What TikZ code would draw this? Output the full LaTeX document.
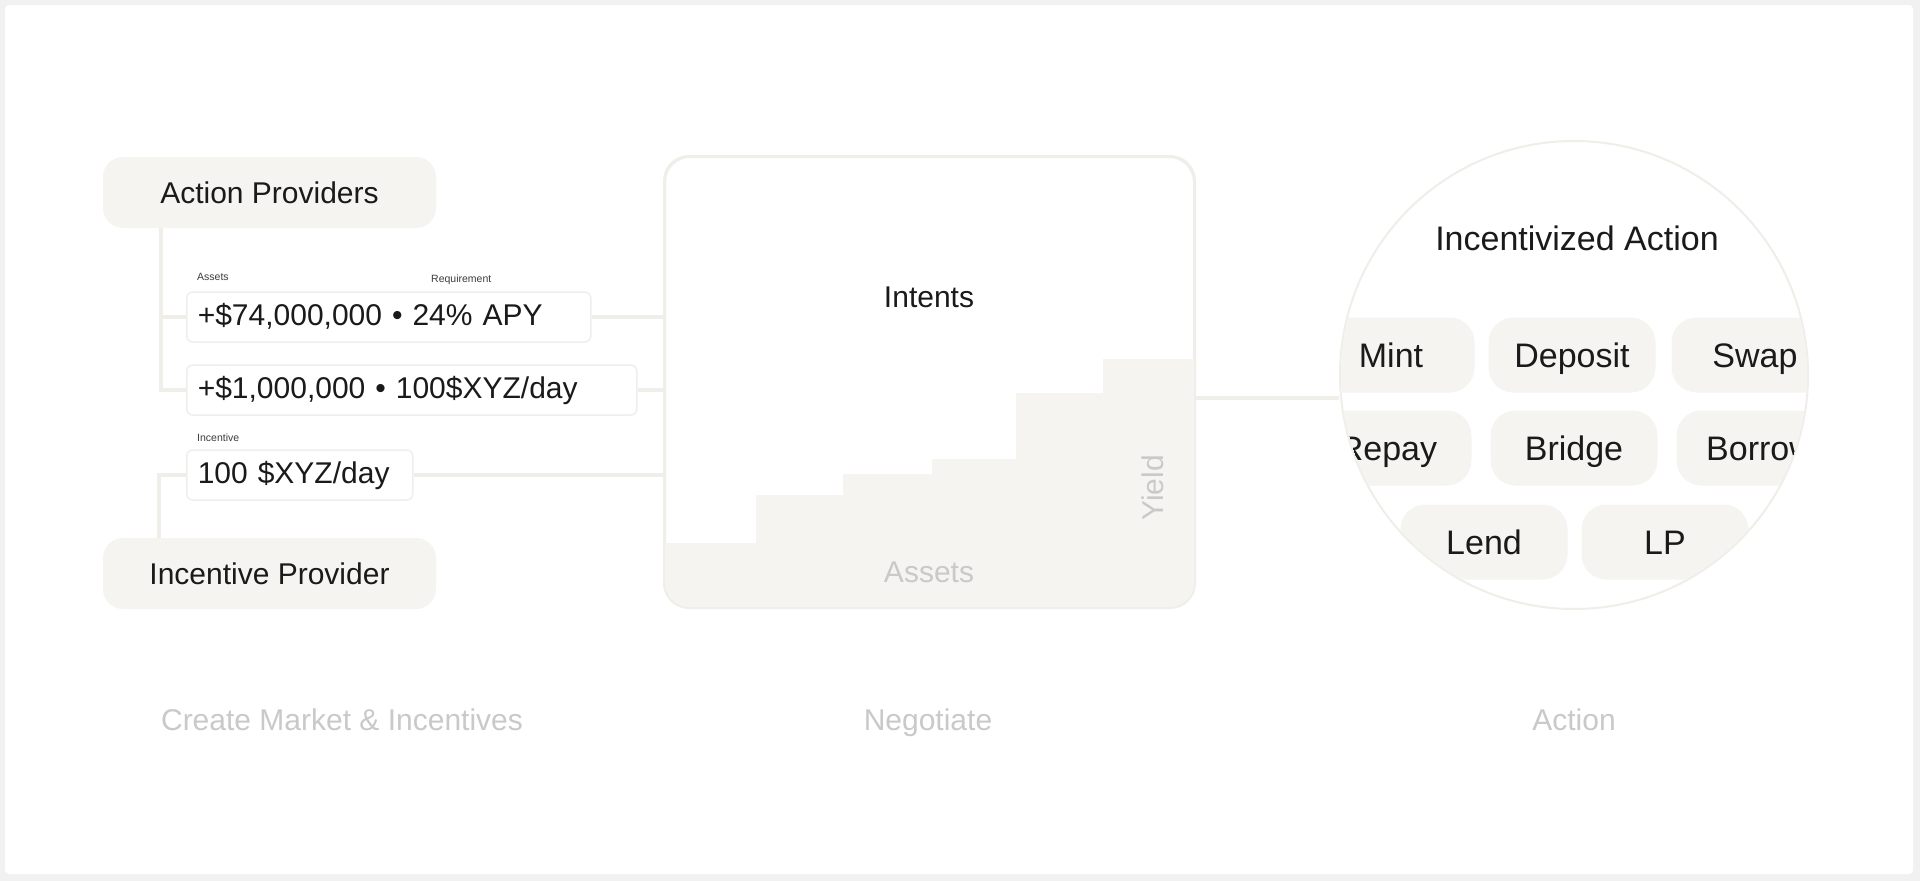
\documentclass[tikz,border=0pt]{standalone}
\usepackage{fontspec}
\setmainfont{Liberation Sans}
\usetikzlibrary{positioning}
\definecolor{framegray}{HTML}{F1F1F1}
\definecolor{sandfill}{HTML}{F5F4F0}
\definecolor{sandline}{HTML}{F0EEE8}
\definecolor{boxedge}{HTML}{EEEEEC}
\definecolor{mutedgray}{HTML}{C9C9C9}
\definecolor{inkdark}{HTML}{1A1A1A}

\tikzset{
  txt/.style={text=inkdark, font=\fontsize{30pt}{36pt}\selectfont, inner sep=0pt, text height=22pt, text depth=0pt},
  provider/.style={txt, fill=sandfill, rounded corners=20pt, minimum width=333pt, minimum height=71pt},
  amount/.style={txt, text depth=6pt, draw=boxedge, line width=1.5pt, fill=white, rounded corners=6pt, minimum height=50pt, align=left, inner xsep=11pt, anchor=west},
  tag/.style={text=inkdark!85, font=\fontsize{10.5pt}{12pt}\selectfont, inner sep=0pt, anchor=west},
  link/.style={draw=sandline, line width=4pt},
  muted/.style={txt, text=mutedgray},
  pill/.style={txt, font=\fontsize{34pt}{40pt}\selectfont, text height=25pt, fill=sandfill, rounded corners=25pt, minimum width=167pt, minimum height=75pt},
}

\begin{document}
\begin{tikzpicture}[x=1pt, y=-1pt]
  % Frame
  \fill[framegray] (0,0) rectangle (1920,881);
  \fill[white, rounded corners=4pt] (5,5) rectangle (1913,874);

  % Create market and incentives
  \node[provider] (actprov) at (269.5,192.5) {Action Providers};
  \node[provider] (incprov) at (269.5,573.5) {Incentive Provider};

  \node[amount, text width=382pt] (amt1) at (186,317) {+\$74,000,000 • 24\% APY};
  \node[amount, text width=428pt] (amt2) at (186,390) {+\$1,000,000 • 100\$XYZ/day};
  \node[amount, text width=204pt] (amt3) at (186,475) {100 \$XYZ/day};

  \node[tag] (tagassets) at (197,277) {Assets};
  \node[tag] (tagreq) at (431,280) {Requirement};
  \node[tag] (taginc) at (197,438) {Incentive};

  \draw[link] ([xshift=58pt]actprov.south west) |- (amt1.west);
  \draw[link] ([xshift=58pt]actprov.south west) |- (amt2.west);
  \draw[link] ([xshift=56pt]incprov.north west) |- (amt3.west);

  % Negotiate
  \node[draw=sandline, line width=2pt, fill=white, rounded corners=25pt, minimum width=529pt, minimum height=450pt] (negbox) at (929.5,382) {};
  \begin{scope}
    \clip[rounded corners=25pt] (negbox.south west) rectangle (negbox.north east);
    \fill[sandfill] (665,607) |- (756,543) |- (843,495) |- (932,474) |- (1016,459) |- (1103,393) |- (1194,359) -- (1194,607) -- cycle;
  \end{scope}
  \draw[sandline, line width=2pt, rounded corners=25pt] (negbox.south west) rectangle (negbox.north east);

  \node[txt] (intentslbl) at (929,296) {Intents};
  \node[muted] (assetslbl) at (929,571) {Assets};
  \node[muted, rotate=90] (yieldlbl) at (1152,488) {Yield};

  \draw[link] (amt1.east) -- (amt1.east -| negbox.west);
  \draw[link] (amt2.east) -- (amt2.east -| negbox.west);
  \draw[link] (amt3.east) -- (amt3.east -| negbox.west);

  % Action
  \node[circle, draw=sandline, line width=2pt, fill=white, minimum size=468pt, inner sep=0pt] (actcircle) at (1574,375) {};
  \draw[link] ([yshift=-16pt]negbox.east) -- ([yshift=-16pt]negbox.east -| actcircle.west);

  \node[txt, font=\fontsize{34pt}{40pt}\selectfont, text height=25pt] (acttitle) at (1577,238) {Incentivized Action};

  \begin{scope}
    \clip (actcircle.center) circle (233pt);
    \node[pill] (mint) at (1391,355) {Mint};
    \node[pill] (deposit) at (1572,355) {Deposit};
    \node[pill] (swap) at (1755,355) {Swap};
    \node[pill] (repay) at (1388,448) {Repay};
    \node[pill] (bridge) at (1574,448) {Bridge};
    \node[pill] (borrow) at (1760,448) {Borrow};
    \node[pill] (lend) at (1484,542) {Lend};
    \node[pill] (lp) at (1665,542) {LP};
  \end{scope}

  % Stage labels
  \node[muted] (lblcreate) at (342,719) {Create Market \& Incentives};
  \node[muted] (lblnego) at (928,719) {Negotiate};
  \node[muted] (lblaction) at (1574,719) {Action};
\end{tikzpicture}
\end{document}
